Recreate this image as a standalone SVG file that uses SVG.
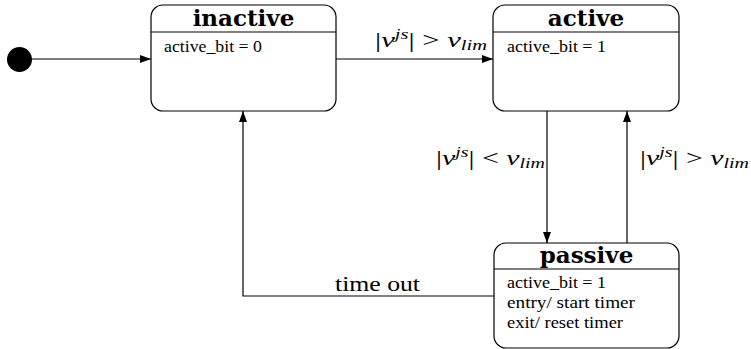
<svg xmlns="http://www.w3.org/2000/svg" width="751" height="349" viewBox="0 0 751 349">
<defs>
<marker id="arr" markerUnits="userSpaceOnUse" markerWidth="11" markerHeight="8" refX="11" refY="4" orient="auto">
<path d="M0,0 L11,4 L0,8 z" fill="#000"/>
</marker>
<style>
.box{fill:#fff;stroke:#000;stroke-width:1.2}
.sep{stroke:#000;stroke-width:1.2}
.title{font-family:"DejaVu Serif","Liberation Serif",serif;font-weight:bold;font-size:23px;text-anchor:middle;fill:#000}
.body{font-family:"Liberation Serif",serif;font-size:16.5px;fill:#000}
.lbl{font-family:"Liberation Serif",serif;font-size:21px;fill:#000}
.it{font-style:italic}
.conn{fill:none;stroke:#000;stroke-width:1.2}
</style>
</defs>
<g id="connectors">
<line class="conn" x1="32" y1="59" x2="151" y2="59" marker-end="url(#arr)"/>
<line class="conn" x1="336" y1="59" x2="493" y2="59" marker-end="url(#arr)"/>
<line class="conn" x1="547" y1="111" x2="547" y2="243" marker-end="url(#arr)"/>
<line class="conn" x1="627" y1="243" x2="627" y2="111" marker-end="url(#arr)"/>
<polyline class="conn" points="494,296 243,296 243,111" marker-end="url(#arr)"/>
<text class="lbl" x="375" y="47" textLength="112" lengthAdjust="spacingAndGlyphs"><tspan>|</tspan><tspan class="it">ν</tspan><tspan class="it" font-size="14" dy="-8">js</tspan><tspan dy="8">| &gt; </tspan><tspan class="it">ν</tspan><tspan class="it" font-size="14" dy="3">lim</tspan></text>
<text class="lbl" x="436" y="165" textLength="109" lengthAdjust="spacingAndGlyphs"><tspan>|</tspan><tspan class="it">ν</tspan><tspan class="it" font-size="14" dy="-8">js</tspan><tspan dy="8">| &lt; </tspan><tspan class="it">ν</tspan><tspan class="it" font-size="14" dy="3">lim</tspan></text>
<text class="lbl" x="640" y="165" textLength="109" lengthAdjust="spacingAndGlyphs"><tspan>|</tspan><tspan class="it">ν</tspan><tspan class="it" font-size="14" dy="-8">js</tspan><tspan dy="8">| &gt; </tspan><tspan class="it">ν</tspan><tspan class="it" font-size="14" dy="3">lim</tspan></text>
<text class="lbl" x="335" y="291" textLength="85" lengthAdjust="spacingAndGlyphs">time out</text>
</g>
<g id="initial">
<circle cx="19.5" cy="59.5" r="12.5" fill="#000"/>
</g>
<g id="inactive">
<rect class="box" x="151" y="5" width="185" height="106" rx="12" ry="12"/>
<line class="sep" x1="151" y1="32" x2="336" y2="32"/>
<text class="title" x="243.5" y="26">inactive</text>
<text class="body" x="164" y="52" textLength="98" lengthAdjust="spacingAndGlyphs">active_bit = 0</text>
</g>
<g id="active">
<rect class="box" x="493" y="5" width="186" height="106" rx="12" ry="12"/>
<line class="sep" x1="493" y1="32" x2="679" y2="32"/>
<text class="title" x="586" y="26">active</text>
<text class="body" x="507" y="52" textLength="99" lengthAdjust="spacingAndGlyphs">active_bit = 1</text>
</g>
<g id="passive">
<rect class="box" x="494" y="243" width="185" height="105" rx="12" ry="12"/>
<line class="sep" x1="494" y1="269" x2="679" y2="269"/>
<text class="title" x="586.5" y="263">passive</text>
<text class="body" x="507" y="288" textLength="99" lengthAdjust="spacingAndGlyphs">active_bit = 1</text>
<text class="body" x="507" y="308" textLength="128" lengthAdjust="spacingAndGlyphs">entry/ start timer</text>
<text class="body" x="507" y="328" textLength="116" lengthAdjust="spacingAndGlyphs">exit/ reset timer</text>
</g>
</svg>
